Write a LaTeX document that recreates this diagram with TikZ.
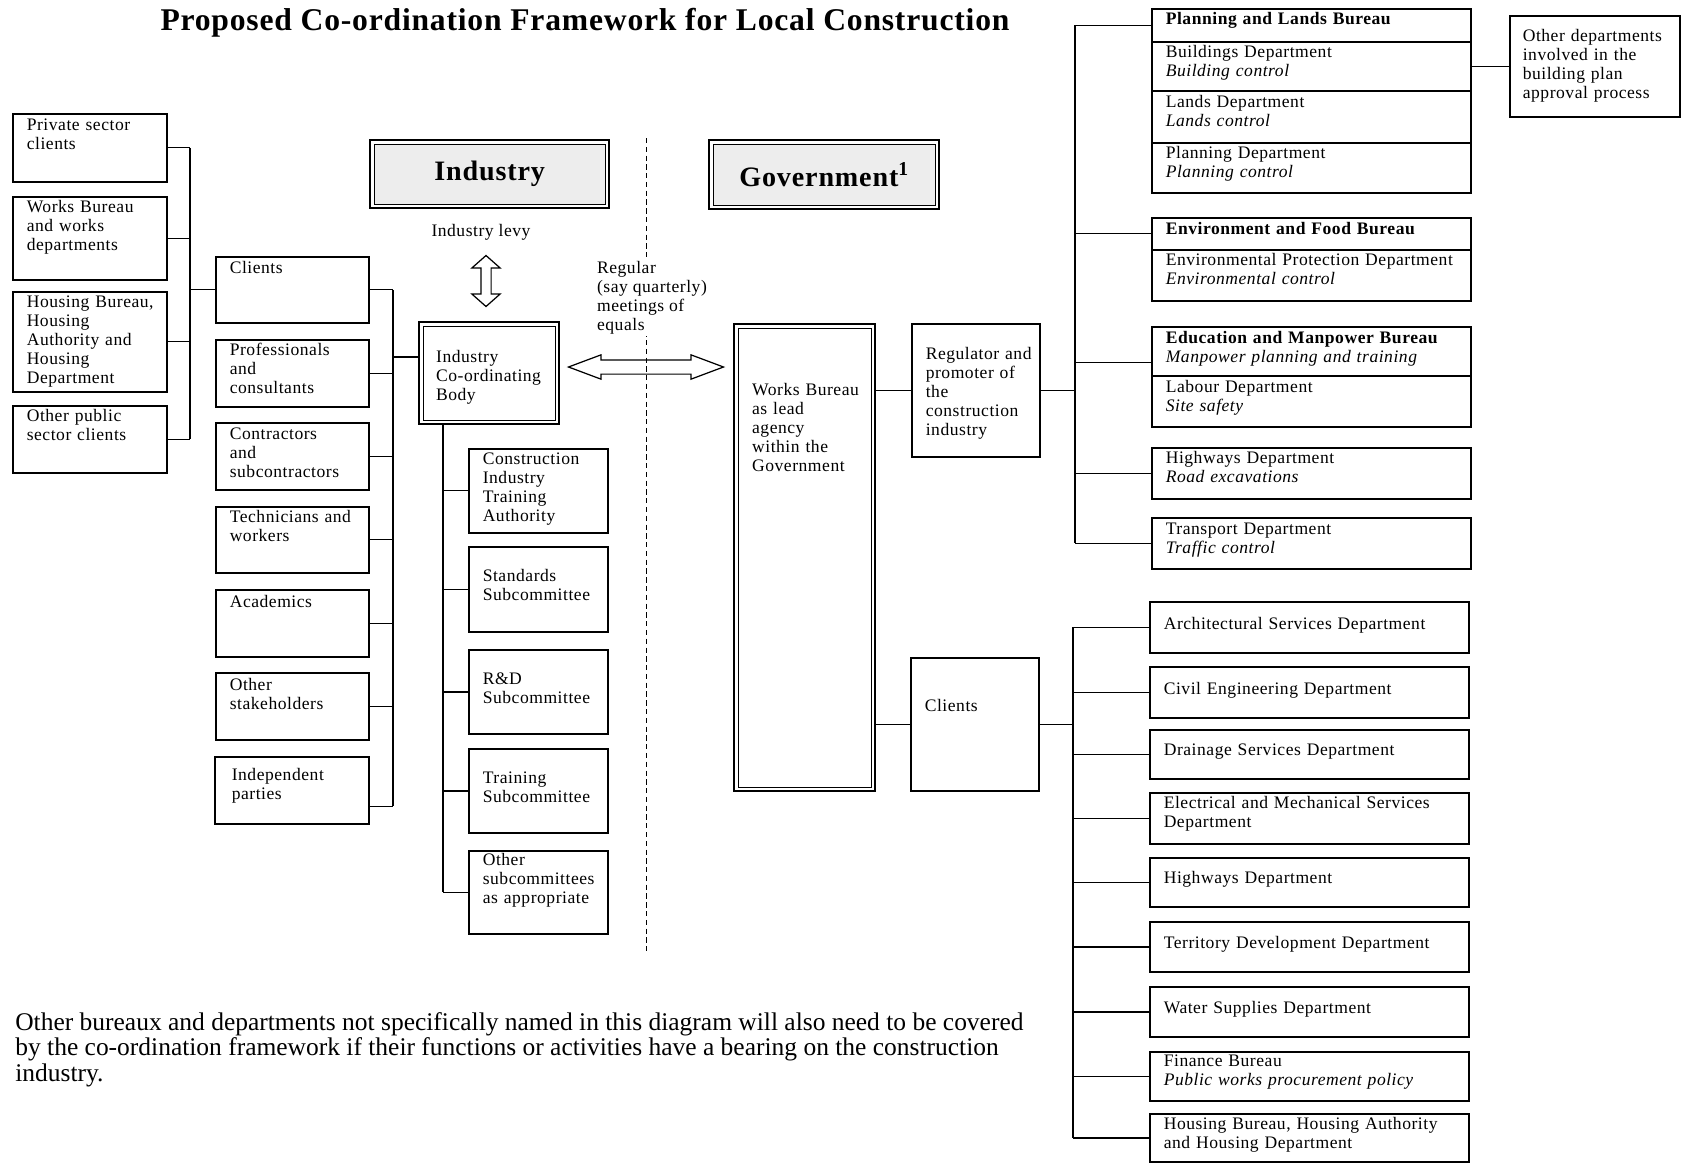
\documentclass[tikz,border=0pt]{standalone}
\usepackage{fontspec}
\setmainfont{Liberation Serif}
\newfontfamily\boxfont{Liberation Serif}[LetterSpace=3]
\newfontfamily\headfont{Liberation Serif}[LetterSpace=3]
\newfontfamily\titlefont{Liberation Serif}[LetterSpace=2.5]
\usetikzlibrary{shapes.arrows}

\newdimen\px
\px=0.02cm

\tikzset{
	box/.style n args={3}{draw, line width=0.9pt, anchor=north west, align=left,
		inner xsep=2*\px, inner ysep=0pt, text width=(#1-4)*\px,
		text height=#3*\px, text depth=(#2-#3)*\px,
		execute at begin node={\leftskip=12\px}},
	bold/.style={font=\boxfont\fontsize{10}{10.8}\selectfont\bfseries},
	dbl/.style={path picture={
		\draw [fill=#1, line width=0.5pt] ([xshift=4*\px,yshift=-4*\px]path picture bounding box.north west) rectangle ([xshift=-4*\px,yshift=4*\px]path picture bounding box.south east);}},
	dbl/.default=white,
	head/.style={draw, line width=1.4pt, anchor=north west, inner sep=0pt, font=\headfont\fontsize{16}{18}\selectfont\bfseries},
	hollow/.style={draw, double arrow, line width=0.7pt, inner xsep=0pt},
	link/.style={line width=0.8pt},
}

\begin{document}
\begin{tikzpicture}[x=0.02cm, y=-0.02cm, every node/.style={font=\boxfont\fontsize{10}{10.8}\selectfont}]
	\useasboundingbox (0,0) rectangle (1685,1163);

	% title
	\node [font=\titlefont\fontsize{18}{20}\selectfont\bfseries] (title) at (585,23) {Proposed Co-ordination Framework for Local Construction};

	% industry / government divide
	\draw [densely dashed, line width=0.4pt] (646,138) -- (646,954);
	\node [anchor=north west, align=left, fill=white, inner sep=1pt] (reglab) at (595,259) {Regular\\(say quarterly)\\meetings of\\equals};

	% headings
	\node [head, dbl=black!7, minimum width=239*\px, minimum height=68*\px] (ind) at (369,139) {Industry};
	\node [head, dbl=black!7, minimum width=230*\px, minimum height=69*\px] (gov) at (708,139) {Government\textsuperscript{1}};

	% levy and meetings
	\node [hollow, rotate=90, minimum height=51*\px, inner ysep=4.5*\px, double arrow head extend=9*\px, double arrow tip angle=97] (levy) at (486,281) {};
	\node (levylab) at (481,232) {Industry levy};
	\node [hollow, minimum height=155*\px, inner ysep=6.5*\px, double arrow head extend=5*\px, double arrow tip angle=41] (meet) at (646,367) {};

	% clients
	\node [box={154}{68}{17}] (priv) at (12,113) {Private sector\\clients};
	\node [box={154}{83}{16}] (works) at (12,196) {Works Bureau\\and works\\departments};
	\node [box={154}{100}{16}] (hous) at (12,291) {Housing Bureau,\\Housing\\Authority and\\Housing\\Department};
	\node [box={154}{67}{16}] (othpub) at (12,405) {Other public\\sector clients};

	% stakeholders
	\node [box={153}{66}{17}] (cl) at (215,256) {Clients};
	\node [box={153}{67}{16}] (prof) at (215,339) {Professionals\\and\\consultants};
	\node [box={153}{67}{17}] (contr) at (215,422) {Contractors\\and\\subcontractors};
	\node [box={153}{66}{16}] (tech) at (215,506) {Technicians and\\workers};
	\node [box={153}{67}{18}] (acad) at (215,589) {Academics};
	\node [box={153}{67}{18}] (othst) at (215,672) {Other\\stakeholders};
	\node [box={154}{67}{24}, execute at begin node={\leftskip=15\px}] (indep) at (214,756) {Independent\\parties};

	% coordinating body
	\node [box={140}{102}{40}, dbl, line width=1.3pt, execute at begin node={\leftskip=15\px}] (icb) at (418,321) {Industry\\Co-ordinating\\Body};

	% subcommittees
	\node [box={139}{84}{16}] (cita) at (468,448) {Construction\\Industry\\Training\\Authority};
	\node [box={139}{85}{35}] (stand) at (468,546) {Standards\\Subcommittee};
	\node [box={139}{84}{35}] (rnd) at (468,649) {R\&D\\Subcommittee};
	\node [box={139}{84}{35}] (train) at (468,748) {Training\\Subcommittee};
	\node [box={139}{83}{15}] (othsub) at (468,850) {Other\\subcommittees\\as appropriate};

	% lead agency
	\node [box={141}{467}{71}, dbl, line width=1.3pt, execute at begin node={\leftskip=16\px}] (wb) at (733,323) {Works Bureau\\as lead\\agency\\within the\\Government};
	\node [box={128}{133}{36}] (reg) at (911,323) {Regulator and\\promoter of\\the\\construction\\industry};
	\node [box={128}{133}{54}] (gcl) at (910,657) {Clients};

	% regulating bureaux and departments
	\node [box={319}{33}{16}, bold] (plb) at (1151,8) {Planning and Lands Bureau};
	\node [box={319}{49}{16}] (bd) at (1151,41) {Buildings Department\\\textit{Building control}};
	\node [box={319}{52}{17}] (ld) at (1151,90) {Lands Department\\\textit{Lands control}};
	\node [box={319}{50}{16}] (pd) at (1151,142) {Planning Department\\\textit{Planning control}};
	\node [box={170}{101}{26}, execute at begin node={\leftskip=11\px}] (odep) at (1509,15) {Other departments\\involved in the\\building plan\\approval process};
	\node [box={319}{32}{17}, bold] (efb) at (1151,217) {Environment and Food Bureau};
	\node [box={319}{51}{16}] (epd) at (1151,249) {Environmental Protection Department\\\textit{Environmental control}};
	\node [box={319}{49}{17}, bold] (emb) at (1151,326) {Education and Manpower Bureau\\\textmd{\textit{Manpower planning and training}}};
	\node [box={319}{51}{17}] (lab) at (1151,375) {Labour Department\\\textit{Site safety}};
	\node [box={319}{51}{16}] (hwy) at (1151,447) {Highways Department\\\textit{Road excavations}};
	\node [box={319}{51}{17}] (td) at (1151,517) {Transport Department\\\textit{Traffic control}};

	% client departments
	\node [box={319}{51}{28}] (asd) at (1149,601) {Architectural Services Department};
	\node [box={319}{51}{28}] (ced) at (1149,666) {Civil Engineering Department};
	\node [box={319}{49}{26}] (dsd) at (1149,729) {Drainage Services Department};
	\node [box={319}{51}{16}] (emsd) at (1149,792) {Electrical and Mechanical Services\\Department};
	\node [box={319}{49}{26}] (hyd) at (1149,857) {Highways Department};
	\node [box={319}{50}{27}] (tdd) at (1149,921) {Territory Development Department};
	\node [box={319}{50}{27}] (wsd) at (1149,986) {Water Supplies Department};
	\node [box={319}{49}{15}] (fb) at (1149,1051) {Finance Bureau\\\textit{Public works procurement policy}};
	\node [box={319}{48}{16}] (hbd) at (1149,1113) {Housing Bureau, Housing Authority\\and Housing Department};

	% client bracket
	\coordinate (lb) at (190,0);
	\foreach \b in {priv,works,hous,othpub}
		\draw [link] (\b.east) -- (\b.east -| lb);
	\draw [link] (priv.east -| lb) -- (othpub.east -| lb);
	\draw [link] (lb |- cl.west) -- (cl.west);

	% stakeholder bracket
	\coordinate (mb) at (393,0);
	\coordinate (indepc) at ([shift={(0,16)}]indep.east);
	\coordinate (icbc) at ([shift={(0,-16)}]icb.west);
	\foreach \b in {cl,prof,contr,tech,acad,othst}
		\draw [link] (\b.east) -- (\b.east -| mb);
	\draw [link] (indepc) -- (indepc -| mb);
	\draw [link] (cl.east -| mb) -- (indepc -| mb);
	\draw [link] (icbc -| mb) -- (icbc);

	% subcommittee bracket
	\coordinate (sb) at (443,0);
	\draw [link] (icb.south -| sb) -- (othsub.west -| sb);
	\foreach \b in {cita,stand,rnd,train,othsub}
		\draw [link] (\b.west -| sb) -- (\b.west);

	% lead agency links
	\draw [link] (wb.east |- reg.west) -- (reg.west);
	\draw [link] (wb.east |- gcl.west) -- (gcl.west);

	% regulator bracket
	\coordinate (rb) at (1075,0);
	\coordinate (embc) at ([shift={(0,11)}]emb.west);
	\draw [link] (reg) -- (reg -| rb);
	\foreach \b in {plb,efb,embc,hwy,td}
		\draw [link] (\b -| rb) -- (\b);
	\draw [link] (plb -| rb) -- (td -| rb);
	\draw [link] (bd) -- (odep);

	% client department bracket
	\coordinate (cb) at (1073,0);
	\draw [link] (gcl) -- (gcl -| cb);
	\foreach \b in {asd,ced,dsd,emsd,hyd,tdd,wsd,fb,hbd}
		\draw [link] (\b -| cb) -- (\b);
	\draw [link] (asd -| cb) -- (hbd -| cb);

	% note
	\node [anchor=north west, align=left, inner sep=0pt, font=\fontsize{14.5}{14.5}\selectfont] (note) at (15,1012) {Other bureaux and departments not specifically named in this diagram will also need to be covered\\by the co-ordination framework if their functions or activities have a bearing on the construction\\industry.};
\end{tikzpicture}
\end{document}
